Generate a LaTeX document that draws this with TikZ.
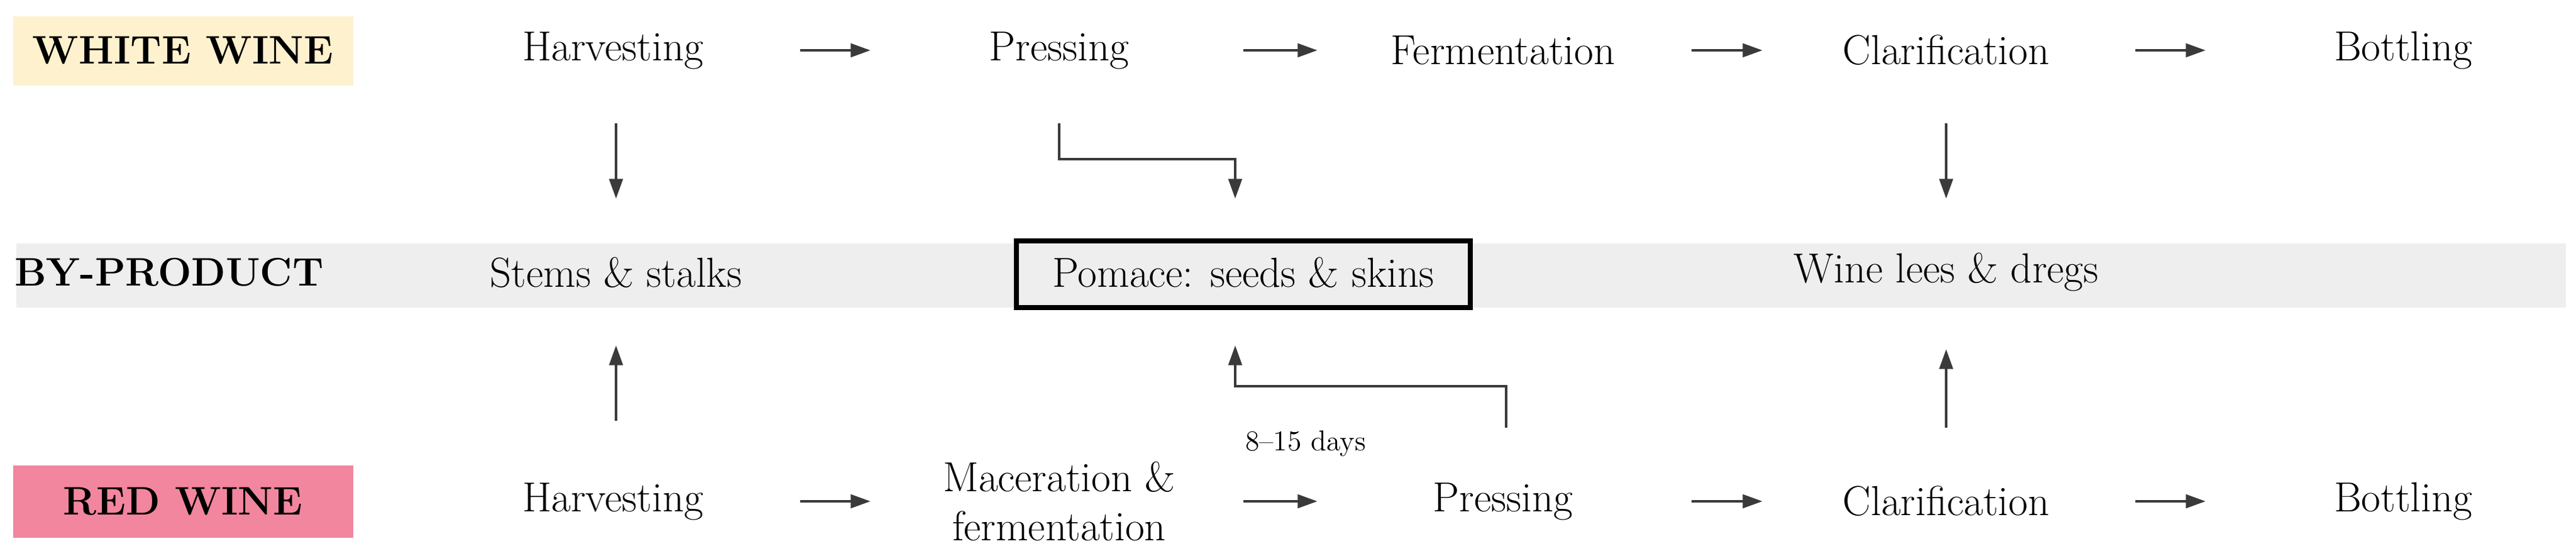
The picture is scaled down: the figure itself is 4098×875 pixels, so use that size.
\documentclass[tikz,border=0pt]{standalone}
\usetikzlibrary{arrows.meta}
\definecolor{ww}{HTML}{FDF1CE}
\definecolor{rw}{HTML}{F2869E}
\definecolor{band}{HTML}{EEEEEE}
\definecolor{arr}{HTML}{3A3A3A}
\begin{document}
\begin{tikzpicture}[x=0.01cm,y=-0.01cm,
  lbl/.style={font=\fontsize{19}{22}\selectfont},
  hdr/.style={font=\fontsize{18}{22}\selectfont\bfseries},
  conn/.style={draw=arr,line width=1.4pt,-{Triangle[length=9pt,width=6pt]}}]
\useasboundingbox (0,0) rectangle (4098,875);
\fill[ww] (21,26) rectangle (562,136);
\fill[rw] (21,740) rectangle (562,855);
\fill[band] (26,387) rectangle (4082,489);
\node[hdr] (whh) at (291,80) {WHITE WINE};
\node[hdr] (rwh) at (291,797) {RED WINE};
\node[hdr] (byh) at (269,433) {BY-PRODUCT};
% top row
\node[lbl] (w1) at (975,80) {Harvesting};
\node[lbl] (w2) at (1685,80) {Pressing};
\node[lbl] (w3) at (2391,80) {Fermentation};
\node[lbl] (w4) at (3096,80) {Clarification};
\node[lbl] (w5) at (3823,80) {Bottling};
% middle
\node[lbl] (b1) at (980,433) {Stems \& stalks};
\node[draw=black,line width=2.4pt,fill=band,minimum width=7.22cm,minimum height=1.06cm] (b2) at (1978,436) {};
\node[lbl] (b2t) at (1978,433) {Pomace: seeds \& skins};
\node[lbl] (b3) at (3096,433) {Wine lees \& dregs};
% bottom row
\node[lbl] (r1) at (975,797) {Harvesting};
\node[lbl,align=center] (r2) at (1685,797) {Maceration \&\\fermentation};
\node[lbl] (r3) at (2391,797) {Pressing};
\node[lbl] (r4) at (3096,797) {Clarification};
\node[lbl] (r5) at (3823,797) {Bottling};
\node[font=\fontsize{13}{15}\selectfont] (days) at (2077,705) {8--15 days};
% horizontal arrows
\foreach \y in {80,797}{
  \coordinate (s1) at (1273,\y); \coordinate (e1) at (1385,\y);
  \coordinate (s2) at (1978,\y); \coordinate (e2) at (2096,\y);
  \coordinate (s3) at (2691,\y); \coordinate (e3) at (2804,\y);
  \coordinate (s4) at (3397,\y); \coordinate (e4) at (3509,\y);
  \foreach \i in {1,2,3,4} \draw[conn] (s\i) -- (e\i);
}
% vertical arrows
\coordinate (a1) at (980,196); \coordinate (a1e) at (980,316);
\draw[conn] (a1) -- (a1e);
\coordinate (a2) at (1685,196); \coordinate (a2e) at (1965,316);
\draw[conn] (a2) |- (1965,253) -- (a2e);
\coordinate (a3) at (3096,196); \coordinate (a3e) at (3096,316);
\draw[conn] (a3) -- (a3e);
\coordinate (c1) at (980,669); \coordinate (c1e) at (980,549);
\draw[conn] (c1) -- (c1e);
\coordinate (c2) at (2396,680); \coordinate (c2e) at (1965,549);
\draw[conn] (c2) |- (1965,614) -- (c2e);
\coordinate (c3) at (3096,680); \coordinate (c3e) at (3096,555);
\draw[conn] (c3) -- (c3e);
\end{tikzpicture}
\end{document}
